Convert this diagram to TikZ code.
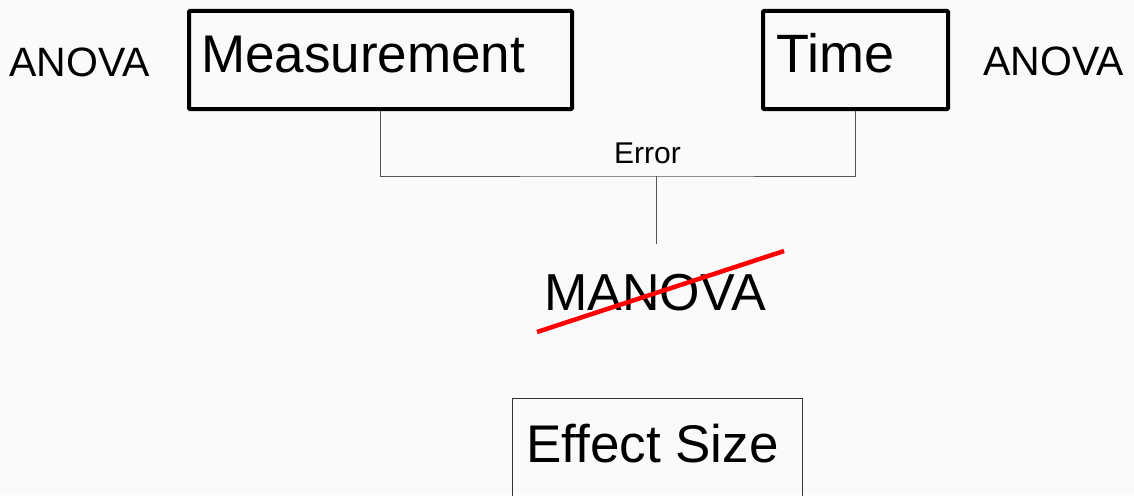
\documentclass[tikz,border=0pt]{standalone}
\usepackage{fontspec}
\setmainfont{Liberation Sans}
\definecolor{bg}{HTML}{FAFAFA}
\definecolor{conn}{HTML}{555555}
\definecolor{thinbox}{HTML}{333333}
\begin{document}
\begin{tikzpicture}[x=1pt,y=-1pt,
  thickbox/.style={draw=black,line width=4pt,rounded corners=1pt,rectangle,inner sep=0pt,anchor=north west},
  thinbx/.style={draw=thinbox,line width=1.3pt,rectangle,inner sep=0pt,anchor=north west},
  lbl/.style={anchor=base west,inner sep=0pt,text=black},
  connector/.style={draw=conn,line width=1pt},
  strike/.style={draw=red,line width=4.5pt}]
\fill[bg] (0,0) rectangle (1134,495);
\useasboundingbox (0,0) rectangle (1134,495);
\begin{scope}
\clip (0,0) rectangle (1134,495);
% boxes
\node[thickbox,minimum width=383pt,minimum height=98pt] (meas) at (187,9) {};
\node[thickbox,minimum width=185pt,minimum height=98pt] (time) at (761,9) {};
\node[thinbx,minimum width=290pt,minimum height=110pt] (eff) at (512,398) {};
% texts
\node[lbl,font=\fontsize{53}{60}\selectfont] (tmeas) at (201,73) {Measurement};
\node[lbl,font=\fontsize{54}{60}\selectfont] (ttime) at (776,72) {Time};
\node[lbl,font=\fontsize{41}{48}\selectfont] (anova1) at (9,76) {ANOVA};
\node[lbl,font=\fontsize{41}{48}\selectfont] (anova2) at (983,75) {ANOVA};
\node[lbl,font=\fontsize{30}{34}\selectfont] (err) at (614,163) {Error};
\node[lbl,font=\fontsize{52}{60}\selectfont] (manova) at (544,310) {MANOVA};
\node[lbl,font=\fontsize{53}{60}\selectfont] (teff) at (526,462) {Effect Size};
% connectors
\coordinate (j) at (656,176);
\coordinate (jend) at (656,244);
\draw[connector] (meas.south) |- (j) -| (time.south);
\draw[connector] (j) -- (jend);
% strike-through
\coordinate (s1) at (537,332);
\coordinate (s2) at (784,251);
\draw[strike] (s1) -- (s2);
\end{scope}
\end{tikzpicture}
\end{document}
